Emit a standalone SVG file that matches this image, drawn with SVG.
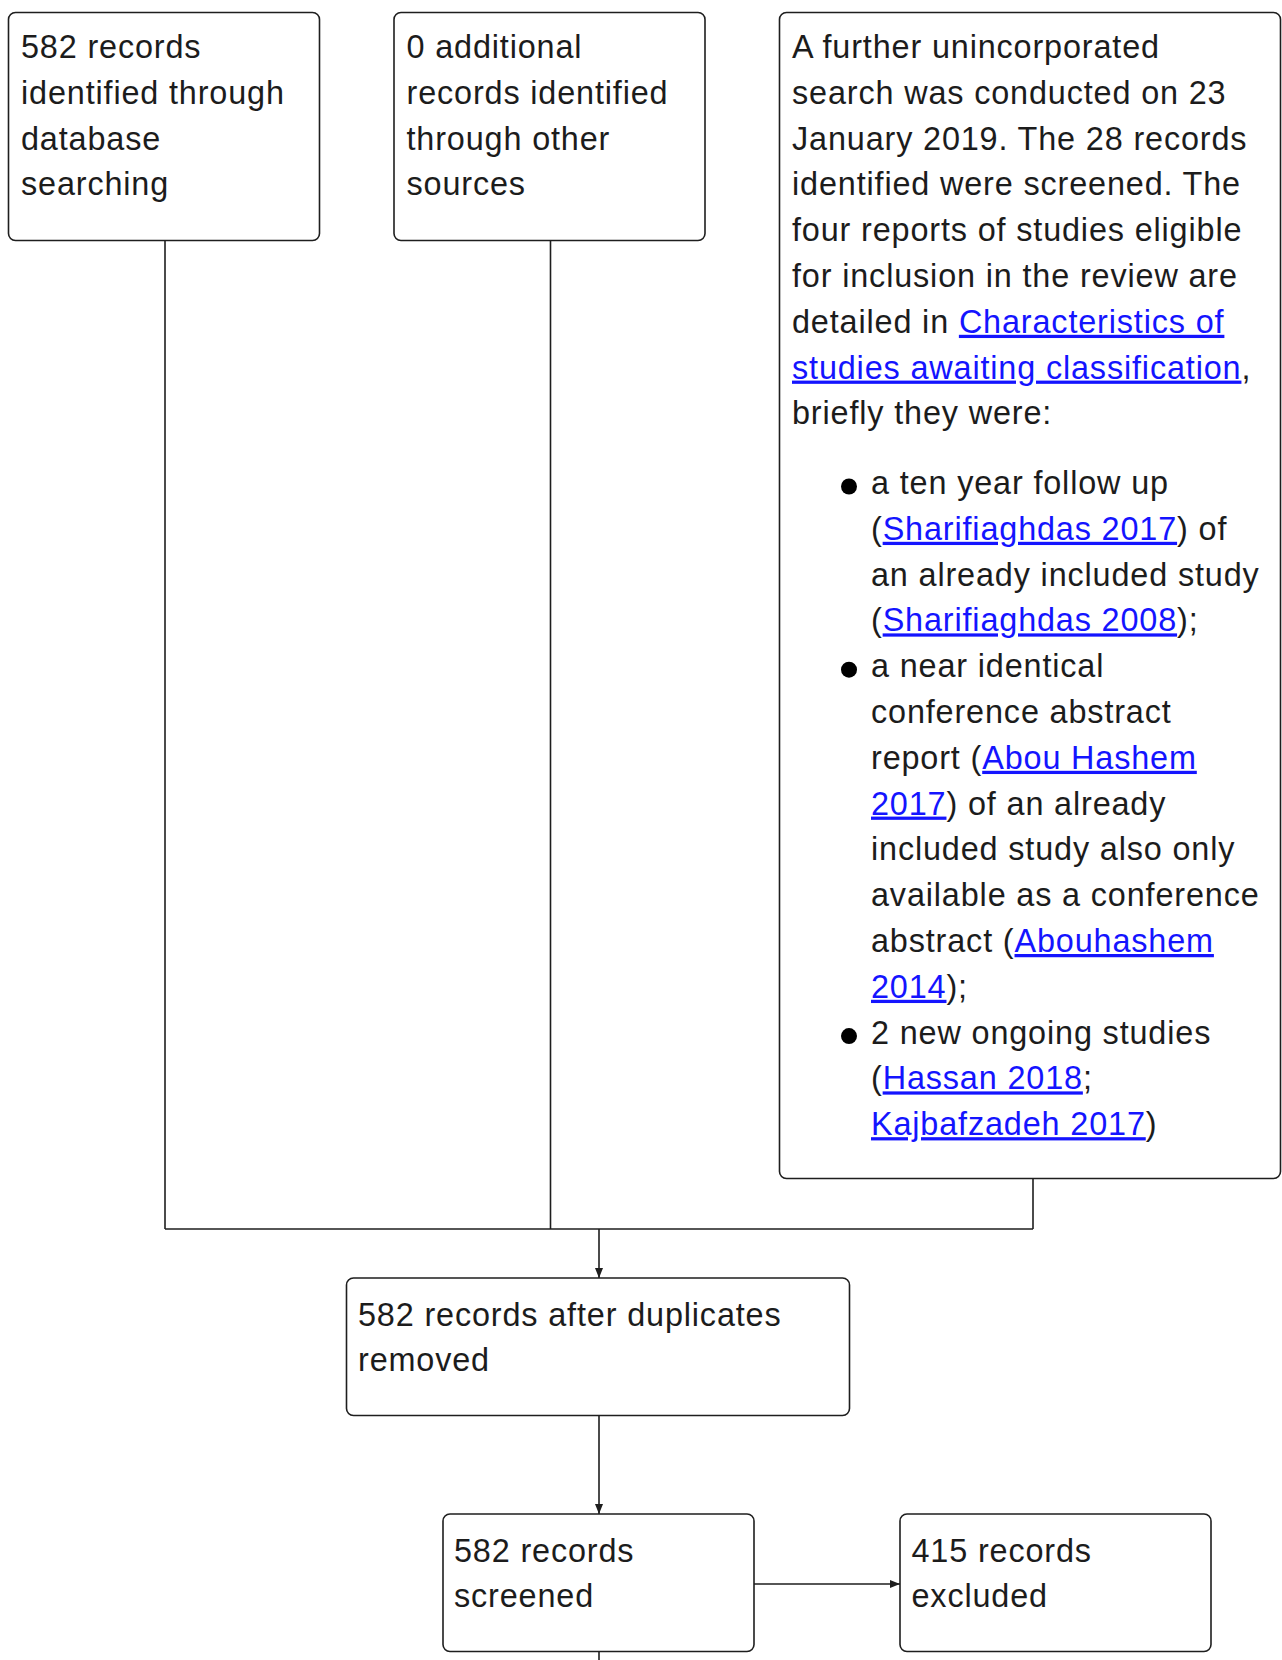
<svg xmlns="http://www.w3.org/2000/svg" width="1282" height="1660" viewBox="0 0 1282 1660">
<style>
  .box { fill: #ffffff; stroke: #1e1e1e; stroke-width: 1.6; }
  .t { font-family: "Liberation Sans", Arial, sans-serif; font-size: 32.4px; letter-spacing: 0.85px; fill: #1c1c1c; }
  .lk { fill: #1414ff; text-decoration: underline; }
  .conn { fill: none; stroke: #1e1e1e; stroke-width: 1.6; }
  .dot { fill: #000000; }
</style>
<defs>
  <marker id="arr" viewBox="0 0 10 8" refX="10" refY="4" markerWidth="10" markerHeight="8" markerUnits="userSpaceOnUse" orient="auto">
    <path d="M0,0 L10,4 L0,8 z" fill="#1e1e1e"/>
  </marker>
</defs>
<rect width="1282" height="1660" fill="#ffffff"/>

<g id="connectors">
  <path class="conn" d="M165,240 V1229"/>
  <path class="conn" d="M550.5,240 V1229"/>
  <path class="conn" d="M1033,1178 V1229"/>
  <path class="conn" d="M165,1229 H1033"/>
  <path class="conn" d="M599,1229 V1278" marker-end="url(#arr)"/>
  <path class="conn" d="M599,1415 V1514" marker-end="url(#arr)"/>
  <path class="conn" d="M754,1584 H900" marker-end="url(#arr)"/>
  <path class="conn" d="M599,1651 V1660"/>
</g>

<g id="node-db">
  <rect class="box" x="8.5" y="12.5" width="311" height="228" rx="7"/>
  <text class="t" x="21" y="58">582 records</text>
  <text class="t" x="21" y="103.8">identified through</text>
  <text class="t" x="21" y="149.6">database</text>
  <text class="t" x="21" y="195.4">searching</text>
</g>

<g id="node-other">
  <rect class="box" x="394" y="12.5" width="311" height="228" rx="7"/>
  <text class="t" x="406.5" y="58">0 additional</text>
  <text class="t" x="406.5" y="103.8">records identified</text>
  <text class="t" x="406.5" y="149.6">through other</text>
  <text class="t" x="406.5" y="195.4">sources</text>
</g>

<g id="node-further">
  <rect class="box" x="779.5" y="12.5" width="501" height="1166" rx="7"/>
  <text class="t" x="792" y="58">A further unincorporated</text>
  <text class="t" x="792" y="103.8">search was conducted on 23</text>
  <text class="t" x="792" y="149.6">January 2019. The 28 records</text>
  <text class="t" x="792" y="195.4">identified were screened. The</text>
  <text class="t" x="792" y="241.2">four reports of studies eligible</text>
  <text class="t" x="792" y="287">for inclusion in the review are</text>
  <text class="t" x="792" y="332.8">detailed in <tspan class="lk">Characteristics of</tspan></text>
  <text class="t" x="792" y="378.6"><tspan class="lk">studies awaiting classification</tspan>,</text>
  <text class="t" x="792" y="424.4">briefly they were:</text>

  <circle class="dot" cx="849" cy="486.5" r="8"/>
  <text class="t" x="871" y="494">a ten year follow up</text>
  <text class="t" x="871" y="539.8">(<tspan class="lk">Sharifiaghdas 2017</tspan>) of</text>
  <text class="t" x="871" y="585.6">an already included study</text>
  <text class="t" x="871" y="631.4">(<tspan class="lk">Sharifiaghdas 2008</tspan>);</text>

  <circle class="dot" cx="849" cy="669.7" r="8"/>
  <text class="t" x="871" y="677.2">a near identical</text>
  <text class="t" x="871" y="723">conference abstract</text>
  <text class="t" x="871" y="768.8">report (<tspan class="lk">Abou Hashem</tspan></text>
  <text class="t" x="871" y="814.6"><tspan class="lk">2017</tspan>) of an already</text>
  <text class="t" x="871" y="860.4">included study also only</text>
  <text class="t" x="871" y="906.2">available as a conference</text>
  <text class="t" x="871" y="952">abstract (<tspan class="lk">Abouhashem</tspan></text>
  <text class="t" x="871" y="997.8"><tspan class="lk">2014</tspan>);</text>

  <circle class="dot" cx="849" cy="1036.1" r="8"/>
  <text class="t" x="871" y="1043.6">2 new ongoing studies</text>
  <text class="t" x="871" y="1089.4">(<tspan class="lk">Hassan 2018</tspan>;</text>
  <text class="t" x="871" y="1135.2"><tspan class="lk">Kajbafzadeh 2017</tspan>)</text>
</g>

<g id="node-dedup">
  <rect class="box" x="346.5" y="1278" width="503" height="137.5" rx="7"/>
  <text class="t" x="358" y="1325.5">582 records after duplicates</text>
  <text class="t" x="358" y="1371.3">removed</text>
</g>

<g id="node-screened">
  <rect class="box" x="443" y="1514" width="311" height="137.5" rx="7"/>
  <text class="t" x="454" y="1561.5">582 records</text>
  <text class="t" x="454" y="1607.3">screened</text>
</g>

<g id="node-excluded">
  <rect class="box" x="900" y="1514" width="311" height="137.5" rx="7"/>
  <text class="t" x="911.5" y="1561.5">415 records</text>
  <text class="t" x="911.5" y="1607.3">excluded</text>
</g>
</svg>
